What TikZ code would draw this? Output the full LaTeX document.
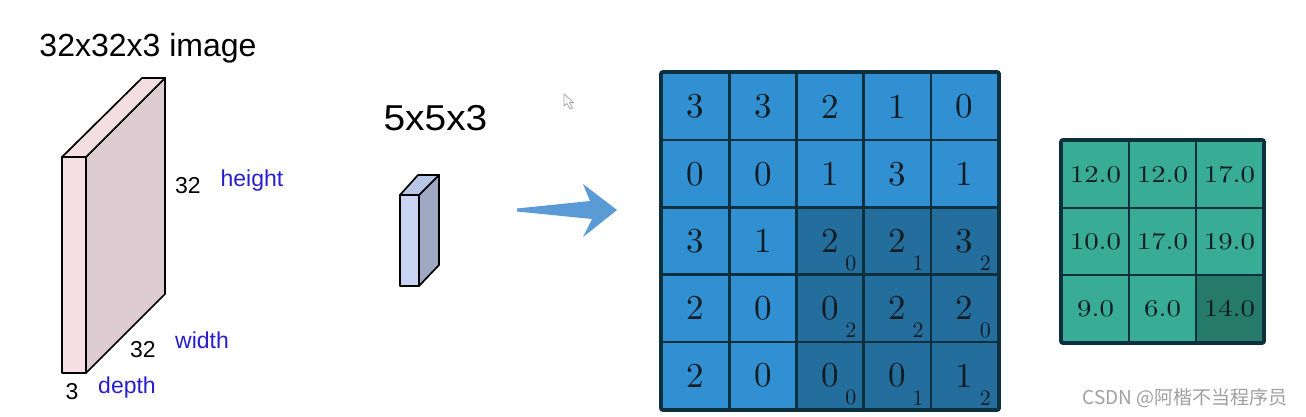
\documentclass[tikz,border=0pt]{standalone}
\usepackage{fontspec}
\newfontfamily\arialf{Liberation Sans}
\newfontfamily\cjkf{Noto Sans CJK SC}
\newfontfamily\cmten{lmroman10-regular.otf}
\usetikzlibrary{calc}
\definecolor{labelblue}{RGB}{40,30,205}
\definecolor{pinkfront}{RGB}{246,223,229}
\definecolor{pinkside}{RGB}{221,205,210}
\definecolor{pinktop}{RGB}{243,222,228}
\definecolor{lavfront}{RGB}{200,212,242}
\definecolor{lavside}{RGB}{158,168,194}
\definecolor{lavtop}{RGB}{186,198,230}
\definecolor{arrowblue}{RGB}{91,155,213}
\definecolor{celllight}{RGB}{48,144,210}
\definecolor{celldark}{RGB}{36,110,158}
\definecolor{gridline}{RGB}{12,48,62}
\definecolor{teallight}{RGB}{56,172,148}
\definecolor{tealdark}{RGB}{38,122,106}
\definecolor{numink}{RGB}{18,28,34}
\definecolor{wmgray}{RGB}{160,160,160}
\begin{document}
\begin{tikzpicture}[x=1pt,y=-1pt,
  lbl/.style={font=\arialf\fontsize{23}{26}\selectfont, inner sep=0pt, anchor=base},
  bluelbl/.style={lbl, text=labelblue},
  slab/.style={draw=black, line width=1.7pt, line join=round},
  gcell/.style={draw=gridline, line width=2.6pt, minimum size=67.2pt, inner sep=0pt, fill=celllight,
    font=\cmten\fontsize{35}{40}\selectfont, text=numink},
  darkcell/.style={fill=celldark},
  subnum/.style={font=\cmten\fontsize{22}{24}\selectfont, text=numink, inner sep=0pt},
  tcell/.style={draw=gridline, line width=2.6pt, minimum size=67pt, inner sep=0pt, fill=teallight,
    font=\cmten\fontsize{24}{28}\selectfont, text=numink},
  tdark/.style={fill=tealdark}]
\useasboundingbox (0,0) rectangle (1306,417);
\fill[white] (0,0) rectangle (1306,417);

% big slab 32x32x3
\coordinate (bfl) at (62,157);
\coordinate (bfr) at (86,157);
\coordinate (bbl) at (62,373);
\coordinate (bbr) at (86,373);
\filldraw[slab, fill=pinkside] (bfr) -- ++(79,-79) -- ++(0,216) -- (bbr) -- cycle;
\filldraw[slab, fill=pinktop] (bfl) -- ++(80,-79) -- ++(23,0) -- (bfr) -- cycle;
\filldraw[slab, fill=pinkfront] (bfl) rectangle (bbr);

\node[lbl, font=\arialf\fontsize{32}{36}\selectfont] (title) at (148,57) {32x32x3 image};
\node[lbl] (h32) at (188,193) {32};
\node[bluelbl] (hlbl) at (252,186) {height};
\node[lbl] (w32) at (143,357) {32};
\node[bluelbl] (wlbl) at (202,348) {width};
\node[lbl] (d3) at (72,399) {3};
\node[bluelbl] (dlbl) at (127,393) {depth};

% small slab 5x5x3
\coordinate (sfl) at (400,195);
\coordinate (sfr) at (419,195);
\coordinate (sbr) at (419,286);
\filldraw[slab, fill=lavside] (sfr) -- ++(20,-20) -- ++(0,90) -- (sbr) -- cycle;
\filldraw[slab, fill=lavtop] (sfl) -- ++(18,-20) -- ++(21,0) -- (sfr) -- cycle;
\filldraw[slab, fill=lavfront] (sfl) rectangle (sbr);
\node[lbl, font=\arialf\fontsize{36}{40}\selectfont, xscale=1.08] (ftitle) at (435.5,131) {5x5x3};

% arrow
\fill[arrowblue] (517,208.5) -- (590,201) -- (583,184) -- (617,210) -- (583,237) -- (592,219) -- (517,211.5) -- cycle;

% cursor
\filldraw[draw=gray!70, fill=white, line width=0.8pt, line join=round]
  (564,94) -- (564,106) -- (567,103.5) -- (570,109) -- (572.5,108) -- (569.5,102.5) -- (573.5,102.5) -- cycle;

% 5x5 input grid
\def\gx{662}\def\gy{73}\def\gc{67.2}
\foreach \r/\vals in {0/{3,3,2,1,0},1/{0,0,1,3,1},2/{3,1,2,2,3},3/{2,0,0,2,2},4/{2,0,0,0,1}}{
  \foreach \v [count=\c from 0] in \vals {
    \pgfmathsetmacro{\isdark}{(\r>1 && \c>1) ? 1 : 0}
    \ifnum\isdark=1
      \node[gcell, darkcell] (g-\r-\c) at ({\gx+(\c+0.5)*\gc},{\gy+(\r+0.5)*\gc}) {\v};
    \else
      \node[gcell] (g-\r-\c) at ({\gx+(\c+0.5)*\gc},{\gy+(\r+0.5)*\gc}) {\v};
    \fi
  }
}
\foreach \r/\c/\s in {2/2/0,2/3/1,2/4/2,3/2/2,3/3/2,3/4/0,4/2/0,4/3/1,4/4/2}{
  \node[subnum] (s-\r-\c) at ($(g-\r-\c.south east)+(-14,-12.5)$) {\s};
}
\draw[gridline, line width=3pt, rounded corners=2pt] (g-0-0.north west) rectangle (g-4-4.south east);

% 3x3 output grid
\def\tx{1062}\def\ty{141}\def\tc{67}
\foreach \r/\vals in {0/{12.0,12.0,17.0},1/{10.0,17.0,19.0},2/{9.0,6.0,14.0}}{
  \foreach \v [count=\c from 0] in \vals {
    \pgfmathsetmacro{\isdark}{(\r==2 && \c==2) ? 1 : 0}
    \ifnum\isdark=1
      \node[tcell, tdark] (t-\r-\c) at ({\tx+(\c+0.5)*\tc},{\ty+(\r+0.5)*\tc}) {\scalebox{1.2}[1]{\v}};
    \else
      \node[tcell] (t-\r-\c) at ({\tx+(\c+0.5)*\tc},{\ty+(\r+0.5)*\tc}) {\scalebox{1.2}[1]{\v}};
    \fi
  }
}
\draw[gridline, line width=3pt, rounded corners=2pt] (t-0-0.north west) rectangle (t-2-2.south east);

% watermark
\node[font=\cjkf\fontsize{19}{22}\selectfont, text=wmgray, inner sep=0pt] (wm) at (1185,398) {CSDN @阿楷不当程序员};
\end{tikzpicture}
\end{document}
